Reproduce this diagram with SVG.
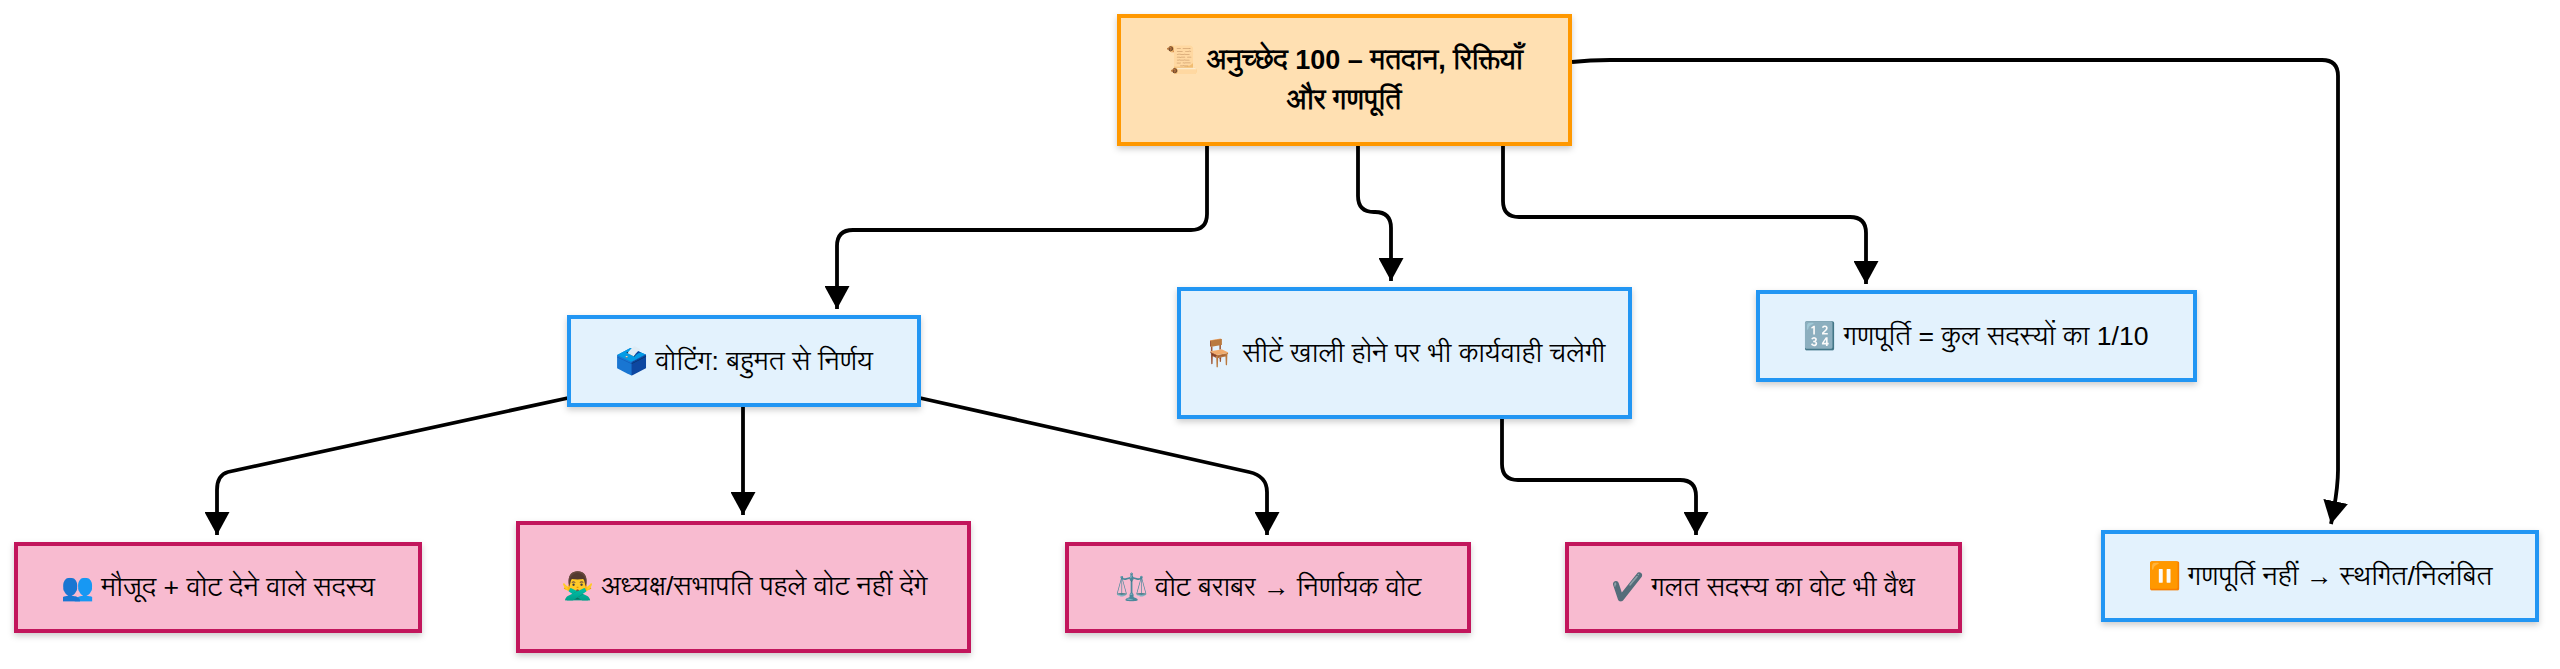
<svg xmlns="http://www.w3.org/2000/svg" width="2560" height="669" viewBox="0 0 2560 669">
<style>
text{font-family:"Liberation Sans","Lohit Devanagari","Noto Sans",sans-serif;font-size:26.6px;fill:#000;text-anchor:middle}
.t{font-weight:700;font-size:27px}
.box{stroke-width:4;filter:url(#s)}
.o{fill:#ffe0b2;stroke:#ff9800}
.b{fill:#e3f2fd;stroke:#2196f3}
.p{fill:#f8bbd0;stroke:#c2185b}
#edges path{fill:none;stroke:#000;stroke-width:3.8;marker-end:url(#a)}
</style>
<defs>
<filter id="s" x="-10%" y="-20%" width="120%" height="140%"><feDropShadow dx="0" dy="3" stdDeviation="3" flood-color="#000" flood-opacity=".2"/></filter>
<marker id="a" markerUnits="userSpaceOnUse" markerWidth="23" markerHeight="25" viewBox="0 0 23 25" refX="23" refY="12.5" orient="auto"><path d="M0 0L23 12.5L0 25Z" fill="#000"/></marker>
</defs>
<rect width="2560" height="669" fill="#fff"/>
<g id="edges">
<path d="M1207 145V214Q1207 230 1191 230H853Q837 230 837 246V309"/>
<path d="M1358 145V196Q1358 212 1374 212H1375Q1391 212 1391 228V281"/>
<path d="M1503 145V201Q1503 217 1519 217H1850Q1866 217 1866 233V284"/>
<path d="M1572 62Q1590 60 1610 60H2322Q2338 60 2338 76V470Q2338 490 2331 524"/>
<path d="M568 398L228 472Q217 475 217 490V535"/>
<path d="M743 407V515"/>
<path d="M920 398L1249 472Q1267 476 1267 492V535"/>
<path d="M1502 419V464Q1502 480 1518 480H1680Q1696 480 1696 496V535"/>
</g>
<g id="n1"><rect class="box o" x="1119" y="16" width="451" height="128"/><text class="t" x="1344" y="69">📜 अनुच्छेद 100 – मतदान, रिक्तियाँ</text><text class="t" x="1344" y="109">और गणपूर्ति</text></g>
<g id="n2"><rect class="box b" x="569" y="317" width="350" height="88"/><text x="744" y="370">🗳️ वोटिंग: बहुमत से निर्णय</text></g>
<g id="n3"><rect class="box b" x="1179" y="289" width="451" height="128"/><text x="1404" y="362">🪑 सीटें खाली होने पर भी कार्यवाही चलेगी</text></g>
<g id="n4"><rect class="box b" x="1758" y="292" width="437" height="88"/><text x="1976" y="345">🔢 गणपूर्ति = कुल सदस्यों का 1/10</text></g>
<g id="n5"><rect class="box p" x="16" y="544" width="404" height="87"/><text x="218" y="596">👥 मौजूद + वोट देने वाले सदस्य</text></g>
<g id="n6"><rect class="box p" x="518" y="523" width="451" height="128"/><text x="744" y="595">🙅‍♂️ अध्यक्ष/सभापति पहले वोट नहीं देंगे</text></g>
<g id="n7"><rect class="box p" x="1067" y="544" width="402" height="87"/><text x="1268" y="596">⚖️ वोट बराबर → निर्णायक वोट</text></g>
<g id="n8"><rect class="box p" x="1567" y="544" width="393" height="87"/><text x="1763" y="596">✔️ गलत सदस्य का वोट भी वैध</text></g>
<g id="n9"><rect class="box b" x="2103" y="532" width="434" height="88"/><text x="2320" y="585">⏸️ गणपूर्ति नहीं → स्थगित/निलंबित</text></g>
</svg>
